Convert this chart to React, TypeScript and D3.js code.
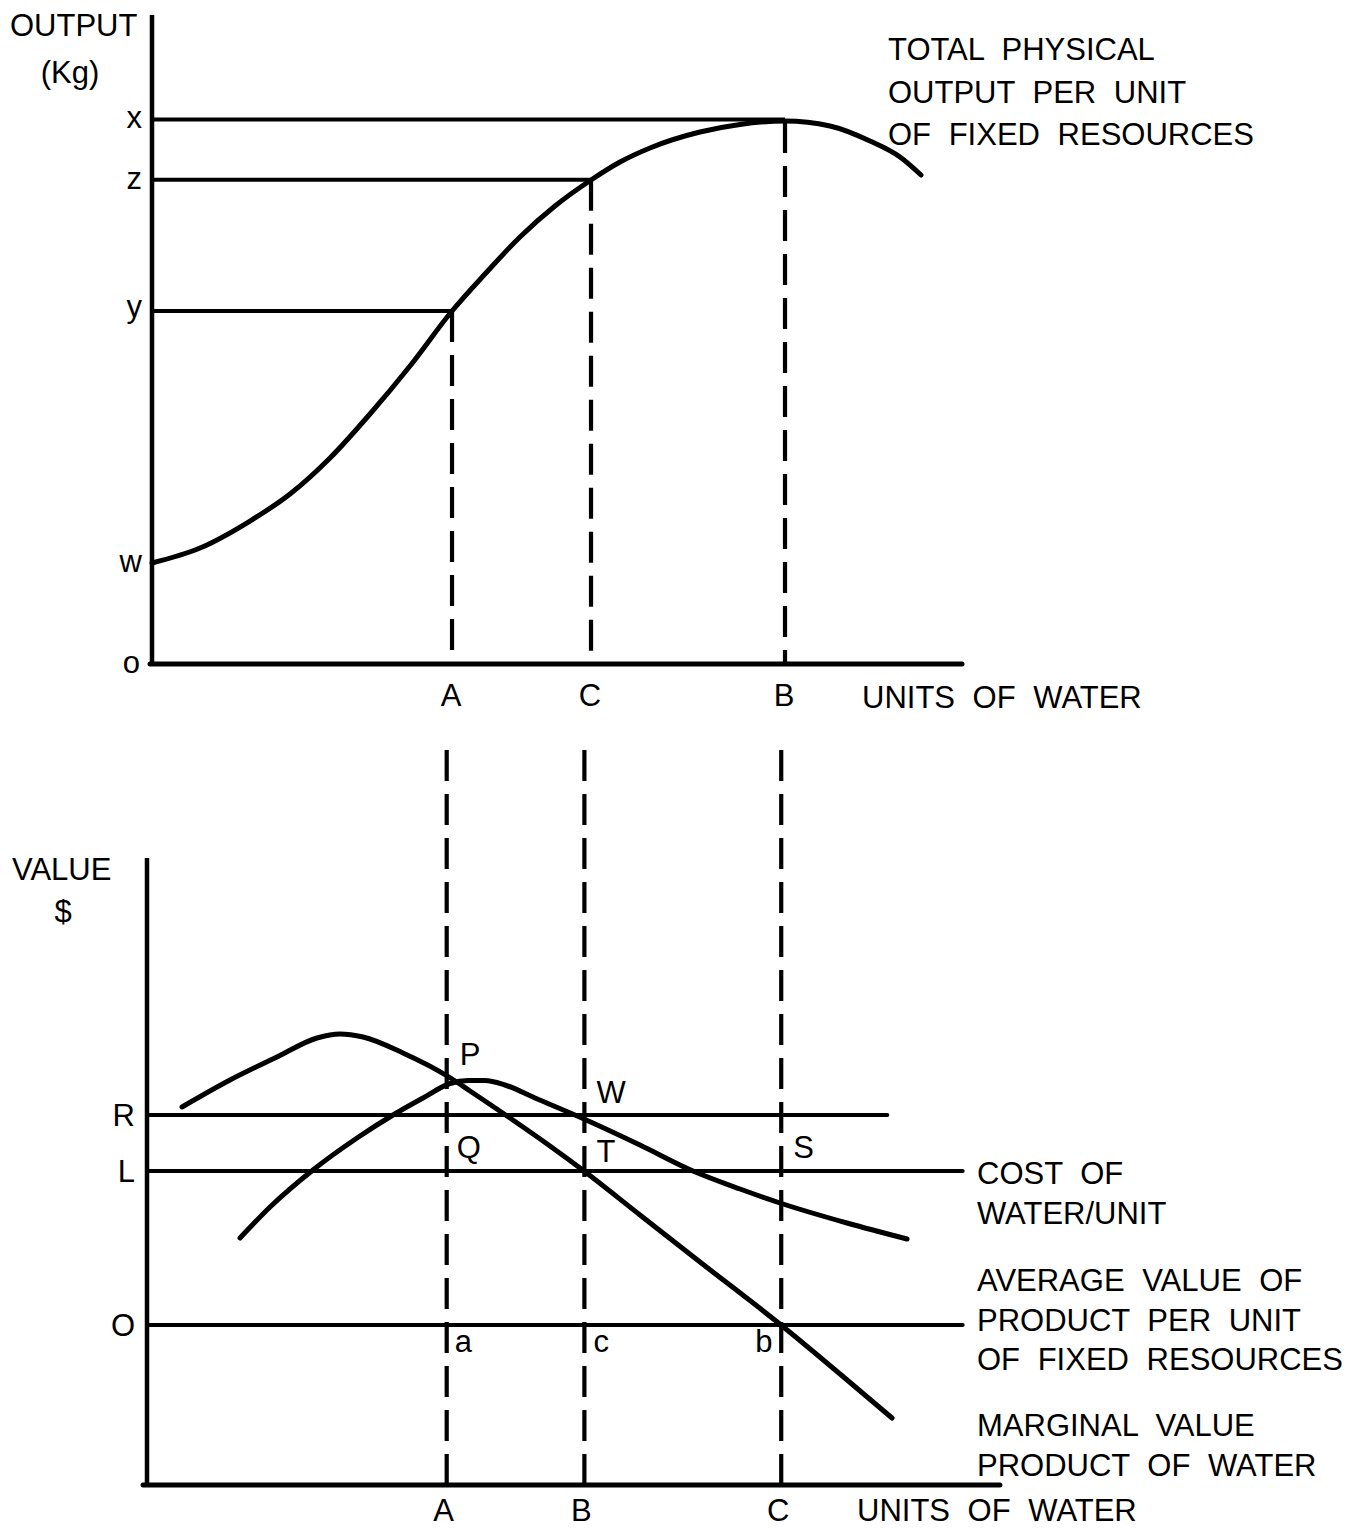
import React from "react";
import * as d3 from "d3";

// ---------- DATA ----------
// Top panel: total physical output curve (units of water vs output)
const tppWater = [0, 5.93, 12.1, 17.04, 21.98, 26.91, 31.85, 37.04, 41.11, 45.43, 49.75, 54.2, 57.78, 61.48, 67.65, 72.59, 78.15, 83.7, 88.64, 92.35, 94.94];
const tppOutput = [15.56, 17.87, 22.03, 26.19, 31.74, 38.52, 45.92, 54.39, 60.09, 65.79, 70.57, 74.58, 77.35, 79.51, 81.97, 83.13, 83.67, 82.9, 80.59, 78.12, 75.35];

const outputTickLabels = ["x", "z", "y", "w"];
const outputTickValues = [83.9, 74.6, 54.4, 15.6];
const outputGuideEnds = [78.15, 54.2, 37.04, 0]; // where each horizontal guide stops

const topMarkLabels = ["A", "C", "B"];
const topMarkValues = [37.04, 54.2, 78.15];
const topMarkTops = [54.4, 74.6, 83.5];

const topCurveLabel = ["TOTAL PHYSICAL", "OUTPUT PER UNIT", "OF FIXED RESOURCES"];

// Bottom panel
const mvpWater = [4.32, 10.25, 16.05, 20.99, 23.83, 26.67, 31.6, 37.28, 39.88, 44.81, 49.75, 53.95, 60.86, 68.27, 78.27, 85.56, 91.98];
const mvpValue = [72.67, 81.67, 89.33, 95.67, 97.0, 96.0, 90.67, 82.67, 78.0, 69.0, 59.67, 51.33, 36.67, 21.0, 0, -16.33, -31.0];

const avpWater = [11.48, 15.19, 20.49, 25.93, 30.37, 34.07, 37.41, 39.63, 41.73, 44.2, 47.9, 53.95, 60.86, 67.41, 73.21, 78.15, 86.42, 93.83];
const avpValue = [29.0, 39.33, 51.67, 62.33, 70.0, 75.67, 80.5, 81.5, 81.5, 80.0, 75.67, 68.67, 60.0, 51.33, 45.33, 40.67, 34.0, 28.67];

const valueTickLabels = ["R", "L", "O"];
const valueTickValues = [70, 51.3, 0];
const valueLineEnds = [91.4, 100.7, 100.7];

const bottomMarkLabels = ["A", "B", "C"];
const bottomMarkValues = [37.0, 54.0, 78.3];

const pointLabels = [
  { t: "P", w: 37.0, v: 82.0, dx: 13, dy: -14 },
  { t: "W", w: 54.0, v: 70.0, dx: 12, dy: -12 },
  { t: "Q", w: 37.0, v: 70.0, dx: 10, dy: 43 },
  { t: "T", w: 54.0, v: 51.3, dx: 12, dy: -9 },
  { t: "S", w: 78.3, v: 70.0, dx: 12, dy: 43 },
  { t: "a", w: 37.0, v: 0, dx: 8, dy: 27 },
  { t: "c", w: 54.0, v: 0, dx: 9, dy: 27 },
  { t: "b", w: 78.3, v: 0, dx: -26, dy: 27 },
];

const bottomLegend = [
  { lines: ["COST OF", "WATER/UNIT"], y0: 1184 },
  { lines: ["AVERAGE VALUE OF", "PRODUCT PER UNIT", "OF FIXED RESOURCES"], y0: 1291 },
  { lines: ["MARGINAL VALUE", "PRODUCT OF WATER"], y0: 1436 },
];

// ---------- LAYOUT ----------
const W = 1355;
const H = 1530;
const FONT = "'Liberation Sans', Arial, Helvetica, sans-serif";
const FS = 31;
const INK = "#000";

const xTop = d3.scaleLinear().domain([0, 100]).range([152, 962]);
const yTop = d3.scaleLinear().domain([0, 100]).range([664, 15]);

const xBot = d3.scaleLinear().domain([0, 100]).range([147, 957]);
const yBot = d3.scaleLinear().domain([-53.33, 155.67]).range([1485, 858]);

if (typeof document !== "undefined") {
  document.body.style.margin = "0";
}

export default function App() {
  const tppLine = d3
    .line<number>()
    .x((_, i) => xTop(tppWater[i]))
    .y((_, i) => yTop(tppOutput[i]))
    .curve(d3.curveMonotoneX);

  const mvpLine = d3
    .line<number>()
    .x((_, i) => xBot(mvpWater[i]))
    .y((_, i) => yBot(mvpValue[i]))
    .curve(d3.curveMonotoneX);

  const avpLine = d3
    .line<number>()
    .x((_, i) => xBot(avpWater[i]))
    .y((_, i) => yBot(avpValue[i]))
    .curve(d3.curveMonotoneX);

  const textStyle = { fontFamily: FONT, fontSize: FS, fill: INK, wordSpacing: 9 } as React.CSSProperties;
  const dash = "31 13";

  return (
    <svg width={W} height={H} viewBox={`0 0 ${W} ${H}`} style={{ display: "block", background: "#fff" }}>
      <rect x={0} y={0} width={W} height={H} fill="#fff" />

      {/* ================= TOP PANEL ================= */}
      <g>
        {outputTickValues.map((v, i) =>
          outputGuideEnds[i] > 0 ? (
            <line key={"hg" + i} x1={xTop(0)} x2={xTop(outputGuideEnds[i])} y1={yTop(v)} y2={yTop(v)} stroke={INK} strokeWidth={4} />
          ) : null
        )}
        {topMarkValues.map((w, i) => (
          <line key={"vd" + i} x1={xTop(w)} x2={xTop(w)} y1={yTop(topMarkTops[i])} y2={yTop(0)} stroke={INK} strokeWidth={4.2} strokeDasharray={dash} />
        ))}
        <path d={tppLine(tppWater) || ""} fill="none" stroke={INK} strokeWidth={5} strokeLinecap="round" />
        <line x1={xTop(0)} x2={xTop(0)} y1={yTop(0) + 2} y2={yTop(100)} stroke={INK} strokeWidth={4.5} />
        <line x1={xTop(0) - 2} x2={xTop(100)} y1={yTop(0)} y2={yTop(0)} stroke={INK} strokeWidth={5} strokeLinecap="round" />

        <text x={10} y={36} style={textStyle}>OUTPUT</text>
        <text x={70} y={83} textAnchor="middle" style={textStyle}>(Kg)</text>
        {outputTickLabels.map((t, i) => (
          <text key={"ot" + i} x={142} y={yTop(outputTickValues[i]) + (t === "y" ? 6 : 9)} textAnchor="end" style={textStyle}>
            {t}
          </text>
        ))}
        <text x={140} y={yTop(0) + 9} textAnchor="end" style={textStyle}>o</text>
        {topMarkLabels.map((t, i) => (
          <text key={"tm" + i} x={xTop(topMarkValues[i]) - 1} y={706} textAnchor="middle" style={textStyle}>
            {t}
          </text>
        ))}
        <text x={862} y={708} style={textStyle}>UNITS OF WATER</text>
        {topCurveLabel.map((t, i) => (
          <text key={"tl" + i} x={888} y={60 + i * 42.5} style={textStyle}>
            {t}
          </text>
        ))}
      </g>

      {/* ================= BOTTOM PANEL ================= */}
      <g>
        {valueTickValues.map((v, i) => (
          <line key={"bh" + i} x1={xBot(0)} x2={xBot(valueLineEnds[i])} y1={yBot(v)} y2={yBot(v)} stroke={INK} strokeWidth={4} strokeLinecap="round" />
        ))}
        {bottomMarkValues.map((w, i) => (
          <line key={"bd" + i} x1={xBot(w)} x2={xBot(w)} y1={750} y2={yBot(-53.33)} stroke={INK} strokeWidth={4.2} strokeDasharray={dash} />
        ))}
        <path d={mvpLine(mvpWater) || ""} fill="none" stroke={INK} strokeWidth={5} strokeLinecap="round" />
        <path d={avpLine(avpWater) || ""} fill="none" stroke={INK} strokeWidth={5} strokeLinecap="round" />
        <line x1={xBot(0)} x2={xBot(0)} y1={yBot(-53.33) + 2} y2={yBot(155.67)} stroke={INK} strokeWidth={4.5} />
        <line x1={xBot(0) - 4} x2={xBot(105.3)} y1={yBot(-53.33)} y2={yBot(-53.33)} stroke={INK} strokeWidth={5} strokeLinecap="round" />

        <text x={12} y={880} style={textStyle}>VALUE</text>
        <text x={63} y={922} textAnchor="middle" style={textStyle}>$</text>
        {valueTickLabels.map((t, i) => (
          <text key={"vt" + i} x={135} y={yBot(valueTickValues[i]) + 11} textAnchor="end" style={textStyle}>
            {t}
          </text>
        ))}
        {pointLabels.map((p, i) => (
          <text key={"pl" + i} x={xBot(p.w) + p.dx} y={yBot(p.v) + p.dy} style={textStyle}>
            {p.t}
          </text>
        ))}
        {bottomMarkLabels.map((t, i) => (
          <text key={"bm" + i} x={xBot(bottomMarkValues[i]) - 3} y={1521} textAnchor="middle" style={textStyle}>
            {t}
          </text>
        ))}
        <text x={857} y={1521} style={textStyle}>UNITS OF WATER</text>
        {bottomLegend.map((g, gi) =>
          g.lines.map((t, i) => (
            <text key={"bl" + gi + "-" + i} x={977} y={g.y0 + i * 39.5} style={textStyle}>
              {t}
            </text>
          ))
        )}
      </g>
    </svg>
  );
}
